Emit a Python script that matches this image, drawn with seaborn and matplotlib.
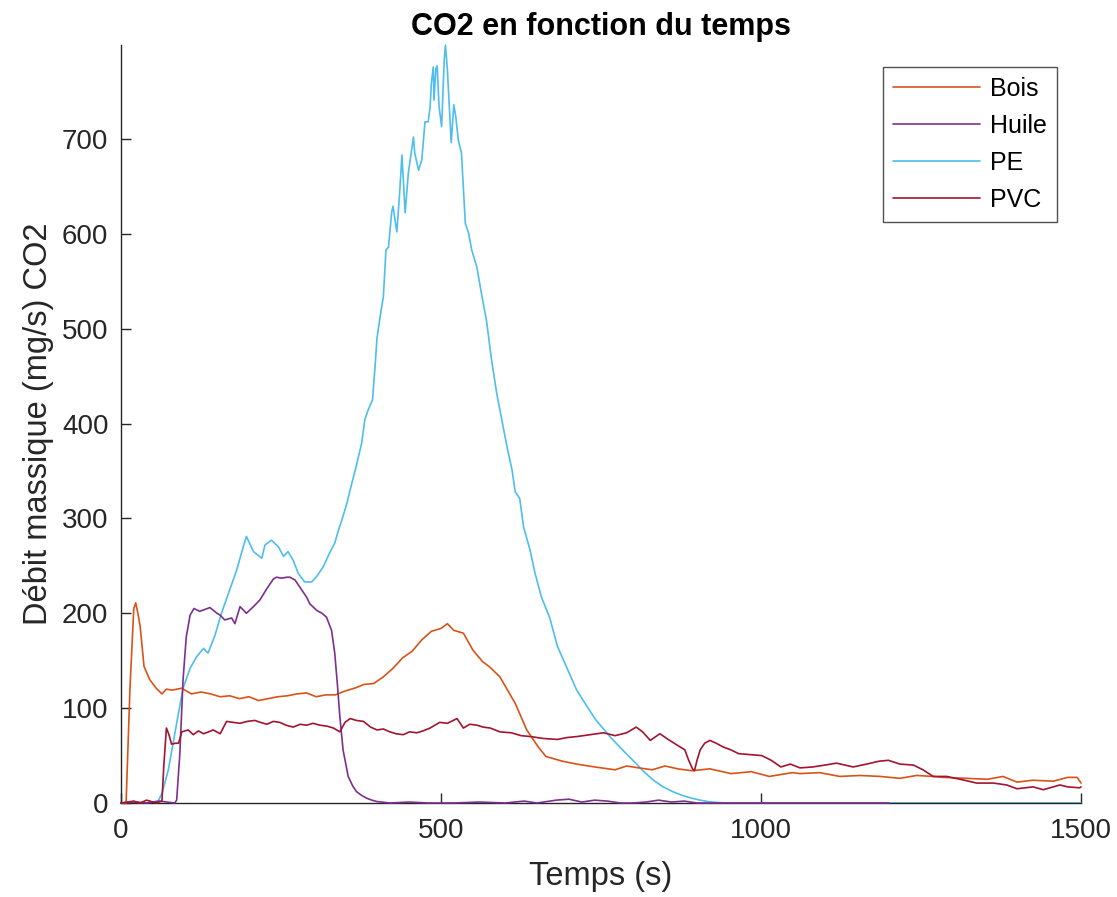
import matplotlib
matplotlib.use("Agg")
import matplotlib.pyplot as plt
import seaborn as sns

# --- Bois ---
bois_t = [0, 8, 14, 20, 23, 27, 30, 36, 45, 55,
          64, 71, 80, 95, 110, 125, 140, 155, 170, 185,
          200, 215, 230, 245, 260, 275, 290, 305, 320, 335,
          350, 365, 380, 395, 410, 425, 440, 455, 470, 485,
          500, 510, 520, 535, 550, 565, 575, 592, 616, 634,
          652, 664, 690, 712, 740, 772, 790, 809, 830, 850,
          870, 892, 920, 953, 985, 1013, 1049, 1061, 1092, 1123,
          1155, 1186, 1217, 1243, 1269, 1285, 1321, 1354, 1378, 1400,
          1425, 1457, 1479, 1494, 1500]
bois_v = [0, 0, 120, 205, 211, 198, 186, 144, 130, 121,
          115, 120, 119, 121, 115, 117, 115, 112, 113, 110,
          112, 108, 110, 112, 113, 115, 116, 112, 114, 114,
          118, 121, 125, 126, 133, 142, 153, 160, 172, 181,
          184, 189, 182, 179, 161, 149, 144, 133, 105, 77,
          59, 49, 44, 41, 38, 35, 39, 37, 35, 39,
          36, 34, 36, 31, 33, 28, 32, 31, 32, 28,
          29, 28, 26, 29, 28, 27, 26, 25, 28, 22,
          24, 23, 27, 27, 21]

# --- Huile ---
huile_t = [0, 20, 40, 60, 84, 87, 92, 97, 102, 108,
           114, 123, 131, 139, 150, 155, 162, 173, 178, 186,
           196, 207, 217, 228, 238, 243, 251, 259, 264, 272,
           280, 290, 295, 306, 314, 321, 329, 334, 338, 342,
           347, 355, 362, 368, 376, 384, 392, 400, 420, 450,
           480, 520, 560, 600, 630, 650, 680, 700, 720, 740,
           760, 780, 800, 820, 840, 860, 880, 900, 912, 1000,
           1100, 1200]
huile_v = [0, 1, 0, 2, 0, 3, 52, 130, 175, 198,
           205, 202, 204, 206, 200, 198, 193, 195, 189, 207,
           200, 207, 214, 226, 236, 238, 237, 238, 238, 235,
           227, 217, 210, 203, 200, 196, 182, 158, 126, 91,
           56, 28, 18, 12, 8, 5, 3, 1.5, 0, 1,
           0, 0, 1, 0, 2, 0, 3, 4, 1, 3,
           2, 0, 0, 1, 3, 1, 2, 0, 0, 0,
           0, 0]

# --- PE ---
pe_t = [0, 20, 40, 58, 64, 74, 87, 97, 108, 118,
        129, 136, 147, 157, 168, 181, 191, 196, 207, 220,
        225, 235, 246, 254, 261, 269, 277, 287, 298, 306,
        316, 327, 334, 340, 345, 353, 358, 366, 376, 381,
        386, 393, 397, 400, 405, 410, 414, 418, 420, 423,
        425, 431, 435, 439, 444, 449, 454, 457, 459, 465,
        470, 475, 480, 483, 485, 488, 489, 492, 494, 497,
        501, 505, 507, 510, 513, 516, 520, 523, 527, 532,
        538, 543, 548, 556, 564, 571, 579, 587, 595, 603,
        611, 616, 623, 629, 639, 647, 657, 670, 682, 697,
        712, 727, 742, 754, 766, 785, 802, 817, 832, 847,
        862, 877, 892, 905, 917, 932, 947, 1000, 1100, 1200,
        1300, 1400, 1500]
pe_v = [0, 1, 0, 2, 10, 35, 84, 121, 142, 154,
        163, 158, 177, 200, 221, 246, 270, 281, 265, 258,
        272, 277, 270, 260, 265, 256, 242, 233, 233, 239,
        249, 265, 274, 288, 298, 316, 330, 351, 379, 404,
        414, 425, 460, 490, 513, 534, 583, 586, 601, 623,
        629, 602, 639, 683, 622, 664, 688, 702, 685, 667,
        678, 718, 718, 734, 759, 776, 741, 774, 777, 734,
        713, 783, 799, 773, 734, 696, 736, 724, 699, 685,
        611, 601, 583, 565, 534, 509, 467, 432, 404, 376,
        351, 328, 321, 291, 267, 242, 217, 195, 165, 142,
        119, 103, 87.5, 78, 68.5, 55, 43.5, 33, 24, 17,
        12, 8, 5, 3, 1.5, 0.5, 0, 0, 0, 0,
        0, 0, 0]

# --- PVC ---
pvc_t = [0, 20, 30, 40, 55, 64, 67, 71, 75, 79,
         85, 90, 95, 105, 113, 121, 129, 137, 144, 155,
         165, 175, 186, 197, 209, 218, 228, 238, 248, 258,
         269, 280, 290, 300, 311, 322, 332, 342, 350, 358,
         368, 379, 390, 400, 410, 420, 430, 441, 451, 462,
         472, 483, 498, 510, 525, 535, 545, 556, 566, 577,
         592, 610, 625, 640, 660, 682, 697, 712, 733, 754,
         772, 790, 805, 815, 827, 842, 855, 869, 881, 887,
         893, 896, 900, 905, 912, 920, 930, 941, 953, 965,
         983, 1001, 1016, 1031, 1046, 1061, 1081, 1100, 1118, 1131,
         1144, 1165, 1184, 1199, 1217, 1238, 1253, 1269, 1290, 1311,
         1337, 1363, 1384, 1400, 1425, 1441, 1467, 1479, 1498, 1500]
pvc_v = [0, 2, 0, 3, 0, 2, 40, 79, 72, 62,
         63, 63, 75, 77, 72, 76, 73, 75, 77, 73,
         86, 85, 84, 86, 87, 85, 83, 86, 85, 82,
         80, 83, 82, 84, 82, 81, 79, 75, 85, 89,
         87, 86, 80, 77, 78, 75, 73, 72, 75, 74,
         76, 79, 85, 84, 89, 79, 83, 82, 80, 79,
         75, 74, 71, 70, 68, 67, 69, 70, 72, 74,
         71, 74, 80, 75, 66, 73, 67, 61, 56, 45,
         36, 34, 45, 56, 63, 66, 63, 59, 56, 52,
         51, 50, 45, 38, 41, 37, 38, 40, 42, 40,
         38, 41, 44, 45, 41, 40, 35, 28, 28, 25,
         21, 21, 19, 15, 17, 14, 19, 17, 16, 17]

labels = ["Bois", "Huile", "PE", "PVC"]
colors = ["#D95319", "#7E2F8E", "#4DBEEE", "#A2142F"]
x_ticks = [0, 500, 1000, 1500]
y_ticks = [0, 100, 200, 300, 400, 500, 600, 700]

sns.set_style("ticks")
plt.rcParams["font.family"] = ["Liberation Sans", "DejaVu Sans"]

fig = plt.figure(figsize=(11.17, 8.97), dpi=100)
ax = fig.add_axes([0.1083, 0.1048, 0.8595, 0.845])

series = [(bois_t, bois_v), (huile_t, huile_v), (pe_t, pe_v), (pvc_t, pvc_v)]
zorders = [3, 4, 2, 5]
for (t, v), lab, col, z in zip(series, labels, colors, zorders):
    sns.lineplot(x=t, y=v, ax=ax, color=col, label=lab, linewidth=1.2,
                 estimator=None, sort=False, zorder=z, clip_on=False)

ax.set_xlim(0, 1500)
ax.set_ylim(0, 799)
ax.set_xticks(x_ticks)
ax.set_yticks(y_ticks)

dark = "#262626"
for side in ["top", "right"]:
    ax.spines[side].set_visible(False)
for side in ["left", "bottom"]:
    ax.spines[side].set_color(dark)
    ax.spines[side].set_linewidth(1.0)

ax.tick_params(axis="both", direction="in", length=7, width=1.0,
               colors=dark, labelsize=20)
ax.tick_params(axis="x", pad=11)
ax.tick_params(axis="y", pad=9)

ax.set_xlabel("Temps (s)", fontsize=23.5, color=dark, labelpad=12)
ax.set_ylabel("Débit massique (mg/s) CO2", fontsize=23.5, color=dark,
              labelpad=6)
ax.set_title("CO2 en fonction du temps", fontsize=22, fontweight="bold",
             color="black", pad=7)

leg = ax.legend(loc="upper right", bbox_to_anchor=(0.975, 0.971),
                fontsize=18, frameon=True, fancybox=False,
                handlelength=3.5, handletextpad=0.4, borderpad=0.4,
                labelspacing=0.52, borderaxespad=0)
leg.get_frame().set_edgecolor(dark)
leg.get_frame().set_linewidth(1.0)
for txt in leg.get_texts():
    txt.set_color("black")

fig.savefig("out.png", dpi=100, facecolor="white")
